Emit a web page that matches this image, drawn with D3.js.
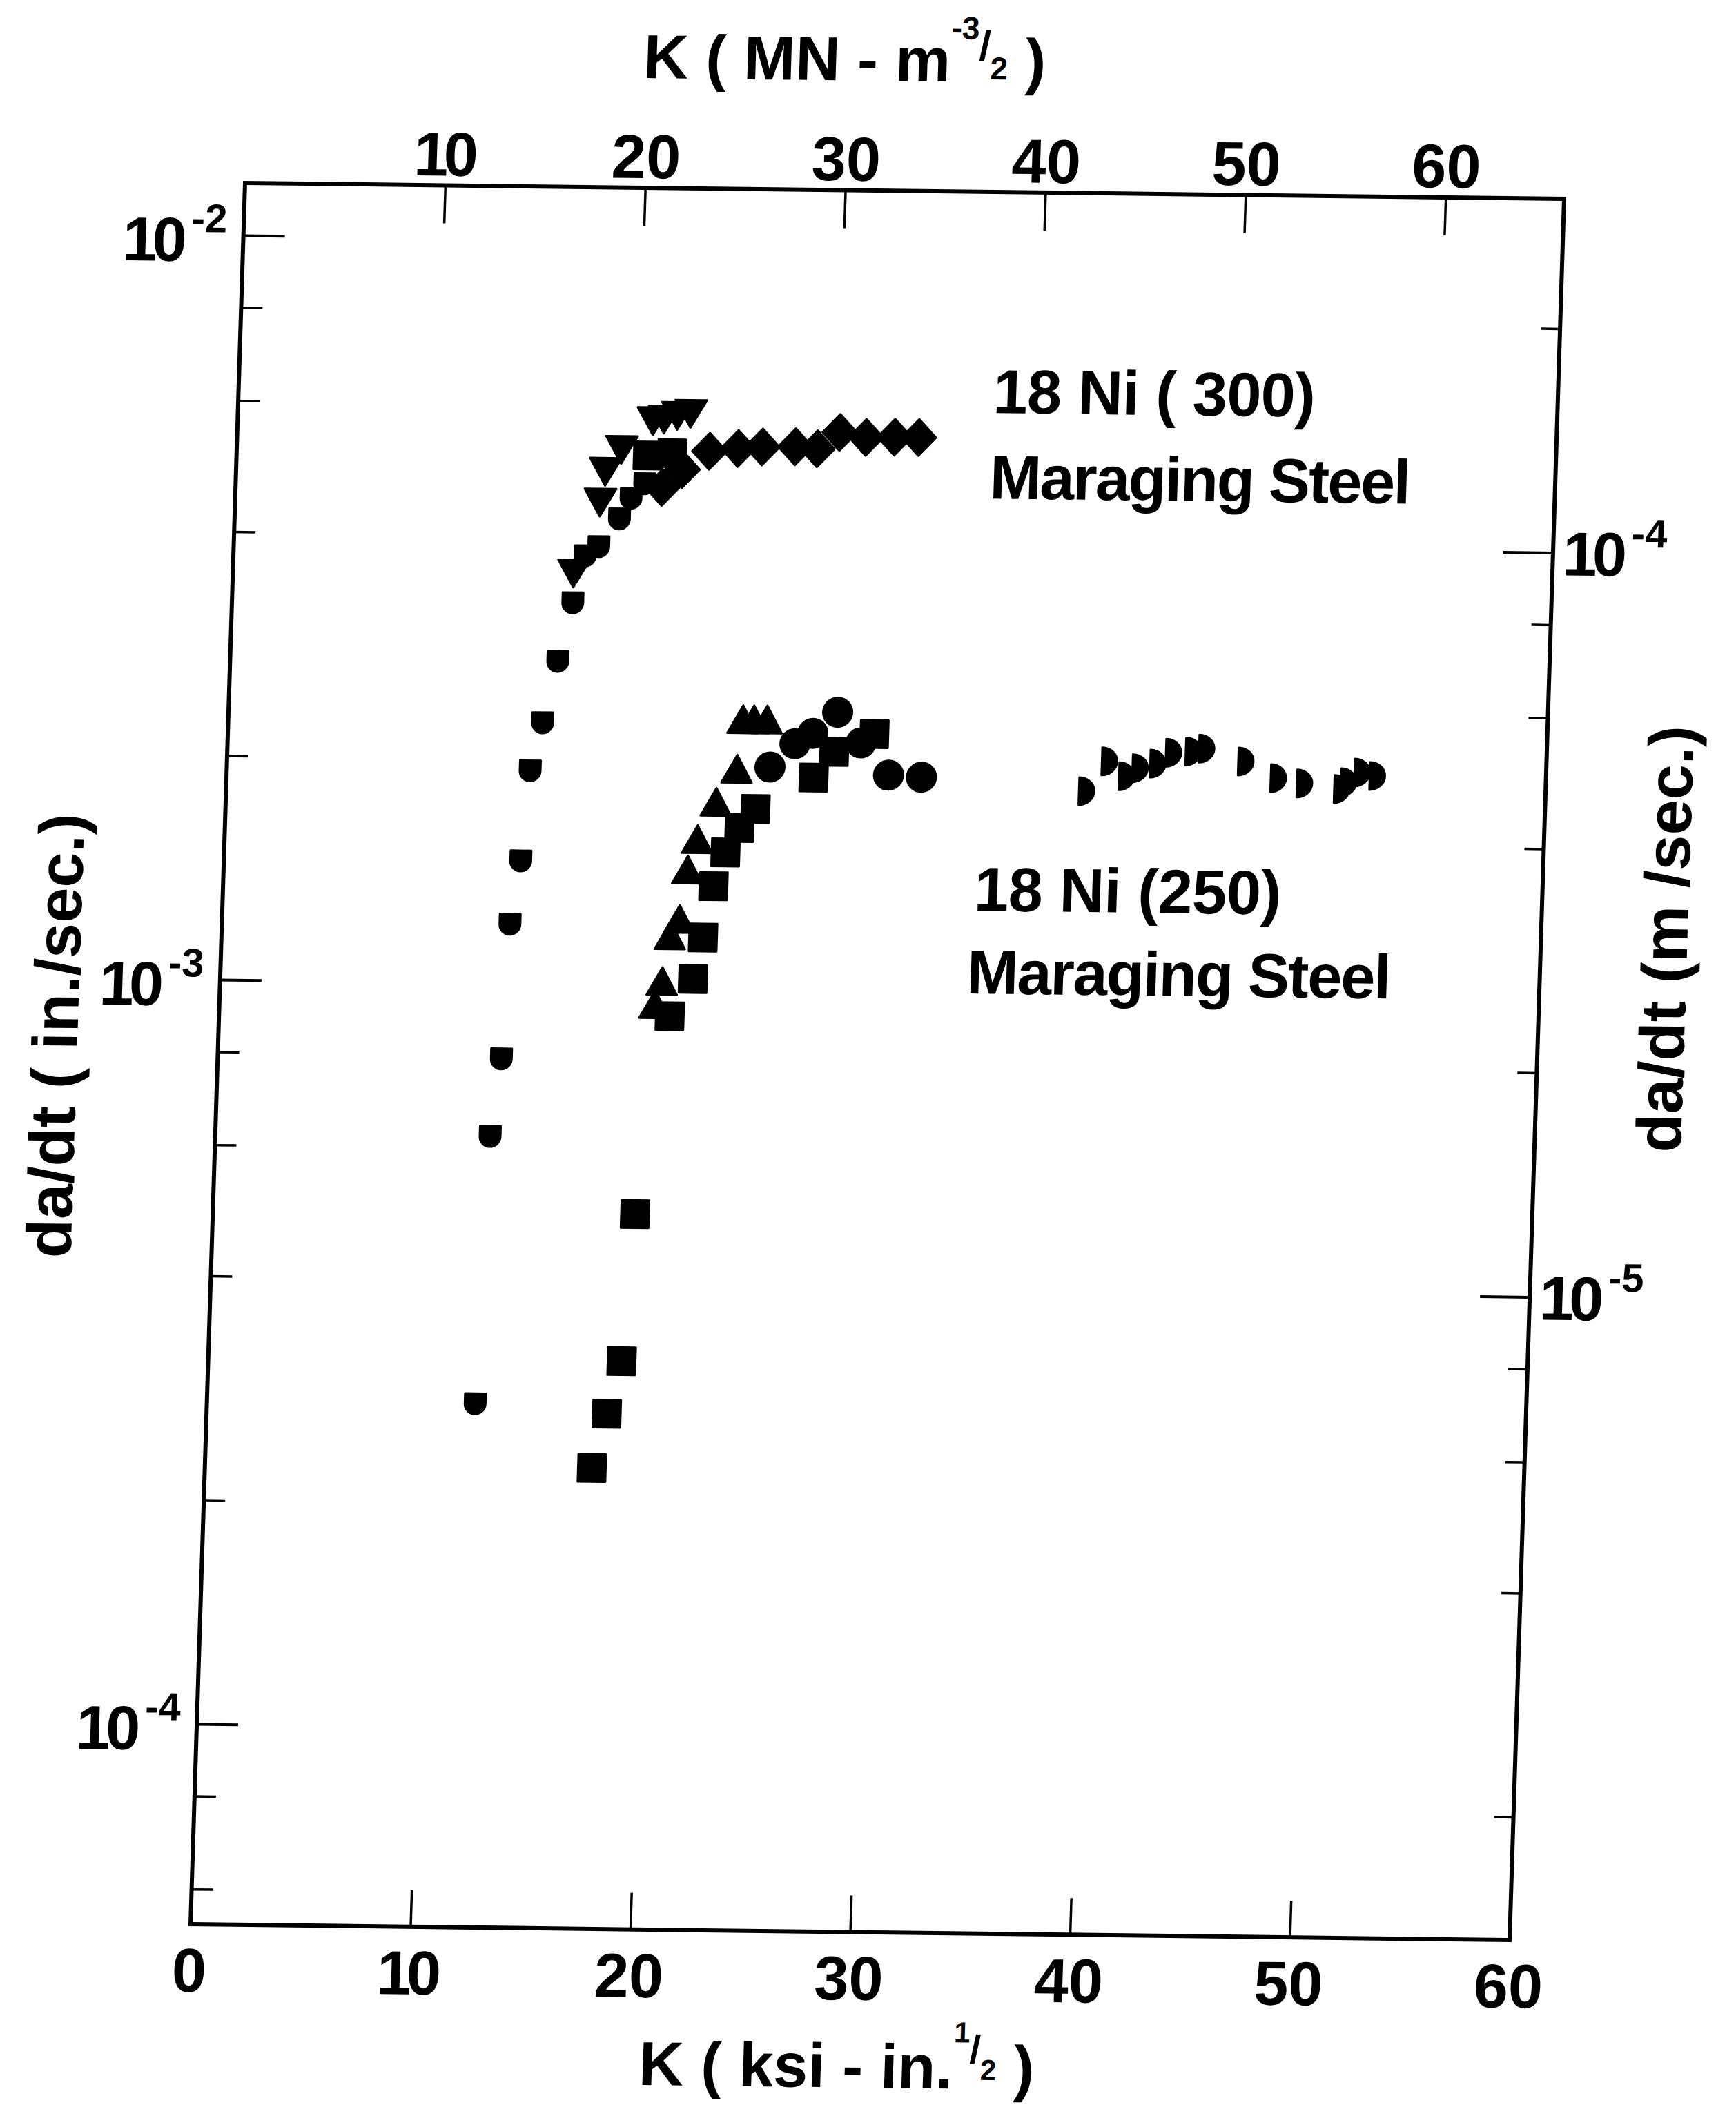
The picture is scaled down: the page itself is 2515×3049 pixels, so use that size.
<!DOCTYPE html>
<html>
<head>
<meta charset="utf-8">
<script src="https://cdn.jsdelivr.net/npm/d3@7"></script>
<style>
  html, body { margin: 0; padding: 0; background: #fff; }
  svg { display: block; }
  text { font-family: "Liberation Sans", Arial, sans-serif; font-weight: 700; fill: #000; }
</style>
</head>
<body>
<svg id="chart" width="2515" height="3049"></svg>
<script>
// Crack growth rate da/dt (in./sec) against stress intensity K (ksi·in^1/2)

// 18 Ni (300) maraging steel
const ni300HalfK    = [12.2, 12.5, 12.9, 13.1, 13.5, 13.8, 14.3, 14.9, 15.5, 16.0, 16.6, 17.5, 18.0, 18.6];
const ni300HalfRate = [2.72e-4, 6.22e-4, 7.91e-4, 1.20e-3, 1.46e-3, 1.93e-3, 2.24e-3, 2.71e-3, 3.25e-3, 3.76e-3, 3.87e-3, 4.22e-3, 4.50e-3, 4.71e-3];
const ni300DownK    = [15.5, 16.6, 16.8, 17.5, 18.9, 19.4, 20.0, 20.6];
const ni300DownRate = [3.61e-3, 4.50e-3, 4.95e-3, 5.30e-3, 5.80e-3, 5.83e-3, 5.90e-3, 5.94e-3];
const ni300DiamondK    = [19.4, 20.3, 21.5, 22.8, 23.9, 25.4, 26.4, 27.4, 28.6, 29.9, 31.0];
const ni300DiamondRate = [4.66e-3, 4.93e-3, 5.22e-3, 5.27e-3, 5.30e-3, 5.31e-3, 5.28e-3, 5.56e-3, 5.48e-3, 5.49e-3, 5.49e-3];
const ni300SquareK    = [18.7, 19.8];
const ni300SquareRate = [5.14e-3, 5.18e-3];

// 18 Ni (250) maraging steel
const ni250UpK    = [19.8, 20.1, 20.4, 20.8, 21.1, 21.5, 22.3, 23.2, 23.4, 23.9, 24.5];
const ni250UpRate = [9.29e-4, 9.98e-4, 1.15e-3, 1.21e-3, 1.41e-3, 1.55e-3, 1.74e-3, 1.93e-3, 2.25e-3, 2.25e-3, 2.25e-3];
const ni250SquareK    = [17.6, 18.2, 18.8, 19.2, 20.5, 21.5, 21.9, 22.3, 22.8, 23.4, 24.1, 26.7, 27.6, 29.4];
const ni250SquareRate = [2.24e-4, 2.65e-4, 3.12e-4, 4.92e-4, 9.08e-4, 1.02e-3, 1.16e-3, 1.36e-3, 1.51e-3, 1.63e-3, 1.73e-3, 1.91e-3, 2.07e-3, 2.19e-3];
const ni250CircleK    = [24.7, 25.8, 26.6, 27.7, 28.8, 30.1, 31.6];
const ni250CircleRate = [1.97e-3, 2.12e-3, 2.19e-3, 2.34e-3, 2.13e-3, 1.93e-3, 1.92e-3];
const ni250HalfK    = [39.1, 40.1, 40.9, 41.5, 42.3, 43.0, 43.9, 44.5, 46.3, 47.8, 49.0, 50.7, 51.0, 51.6, 52.3];
const ni250HalfRate = [1.85e-3, 2.03e-3, 1.94e-3, 1.99e-3, 2.02e-3, 2.09e-3, 2.10e-3, 2.12e-3, 2.04e-3, 1.94e-3, 1.91e-3, 1.88e-3, 1.92e-3, 1.98e-3, 1.96e-3];

// Axis ticks
const bottomTicks  = [10, 20, 30, 40, 50];
const bottomLabels = [0, 10, 20, 30, 40, 50, 60];
const topTicks     = [10, 20, 30, 40, 50, 60];          // MN·m^-3/2
const leftMajor    = [1e-2, 1e-3, 1e-4];                // in./sec
const leftMinor    = [8e-3, 6e-3, 4e-3, 2e-3, 8e-4, 6e-4, 4e-4, 2e-4, 8e-5, 6e-5];
const rightMajor   = [1e-4, 1e-5];                      // m/sec
const rightMinor   = [2e-4, 8e-5, 6e-5, 4e-5, 2e-5, 8e-6, 6e-6, 4e-6, 2e-6];

const MPA_PER_KSI = 1.0988;   // 1 ksi·in^1/2 = 1.0988 MN·m^-3/2
const M_PER_IN = 0.0254;

const K_MAX = 60;
const RATE_MIN = 5.383e-5, RATE_MAX = 1.1763e-2;

const W = 1911, H = 2522;
const x = d3.scaleLinear().domain([0, K_MAX]).range([0, W]);
const xTop = d3.scaleLinear().domain([0, K_MAX * MPA_PER_KSI]).range([0, W]);
const y = d3.scaleLog().domain([RATE_MIN, RATE_MAX]).range([H, 0]);
const yRight = d3.scaleLog().domain([RATE_MIN * M_PER_IN, RATE_MAX * M_PER_IN]).range([H, 0]);

const svg = d3.select("#chart");
svg.append("rect").attr("width", 2515).attr("height", 3049).attr("fill", "#fff");

// the sheet sits slightly rotated/sheared on the page
const g = svg.append("g").attr("transform", "matrix(1,0.01204,-0.03132,1,355,265)");

function styleTicks(sel, w) {
  sel.select(".domain").remove();
  sel.selectAll(".tick text").remove();
  sel.selectAll(".tick line").attr("stroke", "#000").attr("stroke-width", w);
}

// ticks (all pointing into the frame)
g.append("g").attr("transform", `translate(0,${H})`)
  .call(d3.axisBottom(x).tickValues(bottomTicks).tickSize(-53)).call(styleTicks, 3.5);
g.append("g")
  .call(d3.axisTop(xTop).tickValues(topTicks).tickSize(-55)).call(styleTicks, 3.5);
g.append("g")
  .call(d3.axisLeft(y).tickValues(leftMajor).tickSize(-60)).call(styleTicks, 4);
g.append("g")
  .call(d3.axisLeft(y).tickValues(leftMinor).tickSize(-31)).call(styleTicks, 3.5);
g.append("g").attr("transform", `translate(${W},0)`)
  .call(d3.axisRight(yRight).tickValues(rightMajor).tickSize(-72)).call(styleTicks, 4);
g.append("g").attr("transform", `translate(${W},0)`)
  .call(d3.axisRight(yRight).tickValues(rightMinor).tickSize(-28)).call(styleTicks, 3.5);

// frame
g.append("rect").attr("x", 0).attr("y", 0).attr("width", W).attr("height", H)
  .attr("fill", "none").attr("stroke", "#000").attr("stroke-width", 6);

// numbers with a narrow "1"
function numText(t, s) {
  const chars = s.split("");
  chars.forEach((c, i) => {
    const ts = t.append("tspan").text(c);
    if (i > 0 && chars[i - 1] === "1") ts.attr("dx", -7);
  });
}

// bottom tick labels
g.append("g").selectAll("text").data(bottomLabels).join("text")
  .attr("x", d => x(d)).attr("y", H + 98).attr("text-anchor", "middle")
  .style("font-size", "90px")
  .each(function (d) { numText(d3.select(this), String(d)); });

// top tick labels
g.append("g").selectAll("text").data(topTicks).join("text")
  .attr("x", d => xTop(d)).attr("y", -14).attr("text-anchor", "middle")
  .style("font-size", "90px")
  .each(function (d) { numText(d3.select(this), String(d)); });

// power-of-ten labels
function powLabel(t, v) {
  numText(t, "10");
  t.append("tspan").attr("dx", 6).attr("dy", -42).style("font-size", "58px")
    .text("-" + Math.round(-Math.log10(v)));
}
g.append("g").selectAll("text").data(leftMajor).join("text")
  .attr("x", -24).attr("y", d => y(d) + 38).attr("text-anchor", "end")
  .style("font-size", "90px")
  .each(function (d) { powLabel(d3.select(this), d); });
g.append("g").selectAll("text").data(rightMajor).join("text")
  .attr("x", W + 14).attr("y", d => yRight(d) + 33).attr("text-anchor", "start")
  .style("font-size", "90px")
  .each(function (d) { powLabel(d3.select(this), d); });

// axis titles
const topTitle = g.append("text").attr("x", 863).attr("y", -159)
  .attr("text-anchor", "middle").style("font-size", "90px");
topTitle.append("tspan").text("K ( MN - m");
topTitle.append("tspan").attr("dy", -62).style("font-size", "46px").text("-3");
topTitle.append("tspan").attr("dy", 30).style("font-size", "60px").text("/");
topTitle.append("tspan").attr("dy", 28).style("font-size", "46px").text("2");
topTitle.append("tspan").attr("dy", 4).text(" )");

const botTitle = g.append("text").attr("x", 942).attr("y", H + 225)
  .attr("text-anchor", "middle").style("font-size", "90px");
botTitle.append("tspan").text("K ( ksi - in.");
botTitle.append("tspan").attr("dy", -67).style("font-size", "42px").text("1");
botTitle.append("tspan").attr("dy", 30).style("font-size", "58px").text("/");
botTitle.append("tspan").attr("dy", 24).style("font-size", "42px").text("2");
botTitle.append("tspan").attr("dy", 13).text(" )");

g.append("text").attr("transform", "translate(-204,1238) rotate(-90)")
  .attr("text-anchor", "middle").style("font-size", "92px").text("da/dt ( in./sec.)");
g.append("text").attr("transform", `translate(${W + 212},1070) rotate(-90)`)
  .attr("text-anchor", "middle").style("font-size", "92px").text("da/dt (m /sec.)");

// material labels
const notes = [
  { t: "18 Ni ( 300)",   u: 1093, v: 320,  len: 467 },
  { t: "Maraging Steel", u: 1092, v: 444,  len: 610 },
  { t: "18 Ni (250)",    u: 1088, v: 1041, len: 445 },
  { t: "Maraging Steel", u: 1081, v: 1161, len: 615 }
];
g.append("g").selectAll("text").data(notes).join("text")
  .attr("x", d => d.u).attr("y", d => d.v).style("font-size", "90px")
  .attr("textLength", d => d.len).attr("lengthAdjust", "spacing")
  .text(d => d.t);

// marker shapes
const shapes = {
  halfDown: "M-15,-15 L15,-15 L15,0 A15,15 0 0 1 -15,0 Z",
  down: "M-23,-13.3 L23,-13.3 L0,26.7 Z",
  up: "M0,-26.7 L22,13.3 L-22,13.3 Z",
  diamond: "M0,-26.5 L25,0 L0,26.5 L-25,0 Z",
  square: "M-20,-20 L20,-20 L20,20 L-20,20 Z",
  circle: "M-21,0 A21,21 0 1 0 21,0 A21,21 0 1 0 -21,0 Z",
  halfRight: "M-10,-20 A22,20 0 0 1 -10,20 Z"
};

const series = [
  { k: ni300HalfK, r: ni300HalfRate, s: "halfDown" },
  { k: ni300SquareK, r: ni300SquareRate, s: "square" },
  { k: ni300DiamondK, r: ni300DiamondRate, s: "diamond" },
  { k: ni300DownK, r: ni300DownRate, s: "down" },
  { k: ni250SquareK, r: ni250SquareRate, s: "square" },
  { k: ni250UpK, r: ni250UpRate, s: "up" },
  { k: ni250CircleK, r: ni250CircleRate, s: "circle" },
  { k: ni250HalfK, r: ni250HalfRate, s: "halfRight" }
];

const marks = g.append("g");
series.forEach(sr => {
  marks.append("g").selectAll("path").data(d3.zip(sr.k, sr.r)).join("path")
    .attr("transform", d => `translate(${x(d[0])},${y(d[1])})`)
    .attr("d", shapes[sr.s])
    .attr("fill", "#000").attr("stroke", "#000")
    .attr("stroke-width", 3).attr("stroke-linejoin", "round");
});
</script>
</body>
</html>
